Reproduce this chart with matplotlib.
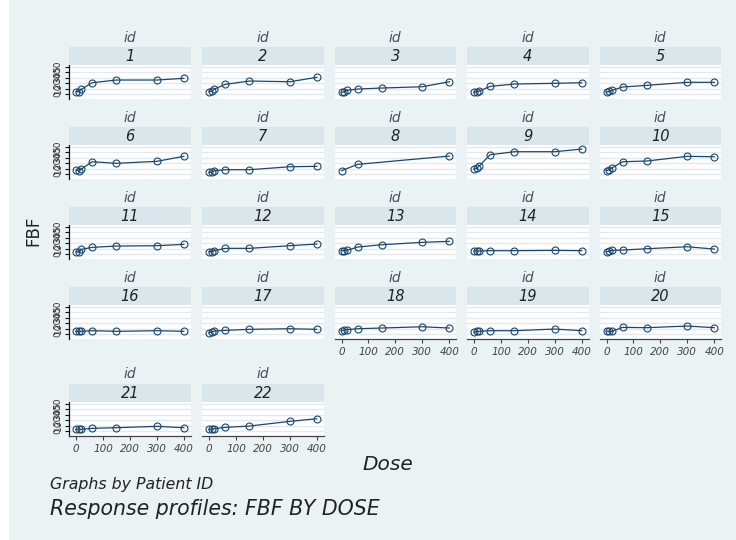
import matplotlib
matplotlib.use("Agg")
import matplotlib.pyplot as plt
from matplotlib.patches import Rectangle

# ---- data: forearm blood flow (FBF) by dose, one profile per patient ----
doses = [0, 10, 20, 60, 150, 300, 400]
doses_8 = [0, 60, 400]

fbf_01 = [4.2, 4.2, 8.6, 20.7, 25.6, 25.6, 28.7]
fbf_02 = [4.2, 5.5, 9.1, 17.7, 23.8, 22.5, 30.5]
fbf_03 = [3.1, 4.2, 6.7, 9.1, 11.0, 13.3, 22.5]
fbf_04 = [3.1, 4.2, 5.5, 14.0, 18.3, 19.6, 20.7]
fbf_05 = [3.7, 4.9, 6.7, 12.8, 15.9, 21.4, 21.4]
fbf_06 = [7.3, 6.1, 9.1, 22.5, 19.6, 23.2, 32.4]
fbf_07 = [3.1, 3.1, 6.1, 7.9, 7.9, 13.3, 14.1]
fbf_08 = [6.1, 17.7, 32.9]
fbf_09 = [9.1, 10.4, 15.2, 35.3, 40.8, 40.8, 45.7]
fbf_10 = [6.1, 7.9, 11.0, 22.5, 23.8, 32.4, 31.6]
fbf_11 = [4.3, 3.1, 8.6, 12.2, 14.6, 15.2, 17.7]
fbf_12 = [4.3, 4.3, 6.1, 10.4, 10.4, 15.2, 18.3]
fbf_13 = [6.1, 6.1, 6.7, 12.8, 17.0, 21.4, 23.2]
fbf_14 = [5.5, 5.5, 5.5, 6.1, 6.1, 6.7, 6.1]
fbf_15 = [4.3, 4.9, 6.7, 7.3, 9.7, 13.3, 9.1]
fbf_16 = [4.9, 4.9, 4.9, 6.1, 4.9, 6.1, 4.9]
fbf_17 = [2.4, 3.7, 5.5, 6.7, 8.6, 9.7, 8.6]
fbf_18 = [6.1, 7.3, 7.9, 9.7, 11.0, 13.3, 11.0]
fbf_19 = [3.1, 4.9, 4.9, 6.1, 6.1, 9.1, 6.1]
fbf_20 = [4.9, 4.9, 4.9, 12.2, 11.6, 14.6, 11.6]
fbf_21 = [3.1, 3.1, 3.1, 4.9, 6.1, 8.6, 6.1]
fbf_22 = [3.1, 3.1, 4.2, 6.7, 9.1, 17.7, 22.5]

patient_ids = list(range(1, 23))
profiles = [fbf_01, fbf_02, fbf_03, fbf_04, fbf_05, fbf_06, fbf_07, fbf_08,
            fbf_09, fbf_10, fbf_11, fbf_12, fbf_13, fbf_14, fbf_15, fbf_16,
            fbf_17, fbf_18, fbf_19, fbf_20, fbf_21, fbf_22]
dose_sets = [doses_8 if pid == 8 else doses for pid in patient_ids]

y_ticks = [0, 10, 20, 30, 40, 50]
x_ticks = [0, 100, 200, 300, 400]

# ---- styling ----
W, H = 736, 540
BG = "#eaf2f3"
STRIP = "#d9e6eb"
GRID = "#e2eaee"
LINE = "#1a476f"
FONT = "DejaVu Sans"

fig = plt.figure(figsize=(W / 100, H / 100), dpi=100)
fig.patch.set_facecolor("white")
fig.patches.append(Rectangle((9 / W, 0), 1 - 9 / W, 1, transform=fig.transFigure,
                             facecolor=BG, edgecolor="none", zorder=-10))


def fig_rect(x0, y0, x1, y1):
    return [x0 / W, 1 - y1 / H, (x1 - x0) / W, (y1 - y0) / H]


col_x = [(69, 190.5), (202, 323.5), (334.5, 456), (467, 588.5), (599.5, 721)]
row_strip = [47, 127, 207, 287, 384]   # top of the title strip of each row
strip_h = 18
plot_h = 34

n_cols = 5
for i, pid in enumerate(patient_ids):
    r, c = divmod(i, n_cols)
    x0, x1 = col_x[c]
    s_top = row_strip[r]
    p_top = s_top + strip_h
    p_bot = p_top + plot_h
    xc = (x0 + x1) / 2

    # strip with the panel number and "id" heading above it
    fig.patches.append(Rectangle((x0 / W, 1 - (s_top + strip_h) / H), (x1 - x0) / W,
                                 strip_h / H, transform=fig.transFigure,
                                 facecolor=STRIP, edgecolor="none"))
    fig.text(xc / W, 1 - (s_top + strip_h / 2 + 0.5) / H, str(pid), ha="center",
             va="center", fontsize=10.5, style="italic", color="#222222",
             family=FONT)
    fig.text(xc / W, 1 - (s_top - 9.5) / H, "id", ha="center", va="center",
             fontsize=10, style="italic", color="#4d4d66", family=FONT)

    ax = fig.add_axes(fig_rect(x0, p_top, x1, p_bot))
    ax.set_facecolor("white")
    ax.plot(dose_sets[i], profiles[i], color=LINE, lw=0.9, marker="o",
            markersize=5.0, markerfacecolor="none", markeredgecolor=LINE,
            markeredgewidth=0.8, zorder=3)
    ax.set_xlim(-26, 425)
    ax.set_ylim(-9.1, 53.1)
    ax.set_yticks(y_ticks)
    ax.set_xticks(x_ticks)
    ax.yaxis.grid(True, color=GRID, lw=1.0)
    ax.set_axisbelow(True)
    for sp in ax.spines.values():
        sp.set_visible(False)

    # y axis only on the first column
    if c == 0:
        ax.spines["left"].set_visible(True)
        ax.spines["left"].set_color("#111111")
        ax.spines["left"].set_linewidth(0.9)
        ax.tick_params(axis="y", length=3, width=0.8, color="#111111", pad=1.5,
                       labelsize=6.5, labelrotation=90, labelcolor="#333333")
        for lab in ax.get_yticklabels():
            lab.set_va("center")
            lab.set_family(FONT)
    else:
        ax.tick_params(axis="y", length=0, labelleft=False)

    # x axis on the bottom panel of each column
    if (r == 3 and c >= 2) or r == 4:
        ax.spines["bottom"].set_visible(True)
        ax.spines["bottom"].set_color("#444444")
        ax.spines["bottom"].set_linewidth(0.9)
        ax.tick_params(axis="x", length=3, width=0.8, color="#444444", pad=3,
                       labelsize=7.5, labelcolor="#444444")
        for lab in ax.get_xticklabels():
            lab.set_style("italic")
            lab.set_family(FONT)
    else:
        ax.tick_params(axis="x", length=0, labelbottom=False)

# axis titles and notes
fig.text(33 / W, 1 - 231 / H, "FBF", rotation=90, ha="center", va="center",
         fontsize=12, color="#222222", family=FONT)
fig.text(388 / W, 1 - 465 / H, "Dose", ha="center", va="center",
         fontsize=14.5, style="italic", color="#222222", family=FONT)
fig.text(50 / W, 1 - 485 / H, "Graphs by Patient ID", ha="left", va="center",
         fontsize=11.3, style="italic", color="#222222", family=FONT)
fig.text(50 / W, 1 - 509 / H, "Response profiles: FBF BY DOSE", ha="left",
         va="center", fontsize=14.8, style="italic", color="#222222", family=FONT)

fig.savefig("out.png", dpi=100, facecolor=fig.get_facecolor())
